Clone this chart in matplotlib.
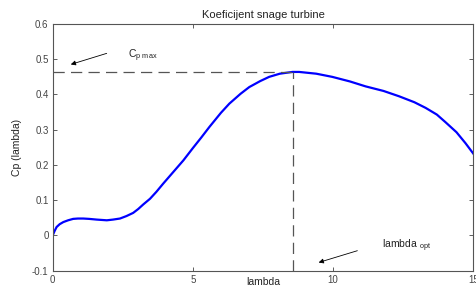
import numpy as np
import matplotlib
matplotlib.use("Agg")
import matplotlib.pyplot as plt

# ocitane vrijednosti krivulje Cp(lambda)
lam = [0.0, 0.07, 0.14, 0.25, 0.38, 0.55, 0.73, 0.9, 1.09, 1.3, 1.57, 1.75,
       1.93, 2.15, 2.4, 2.63, 2.87, 3.05, 3.23, 3.47, 3.7, 3.94, 4.3, 4.66,
       5.0, 5.3, 5.59, 6.0, 6.3, 6.7, 7.01, 7.4, 7.72, 8.1, 8.55, 8.79, 9.4,
       9.97, 10.6, 11.16, 11.8, 12.35, 12.9, 13.3, 13.7, 14.0, 14.4, 14.72,
       15.05]
cp = [0.0, 0.013, 0.024, 0.032, 0.038, 0.043, 0.047, 0.048, 0.048, 0.047,
      0.045, 0.044, 0.043, 0.045, 0.048, 0.055, 0.064, 0.075, 0.088, 0.104,
      0.124, 0.147, 0.18, 0.213, 0.248, 0.278, 0.308, 0.348, 0.374, 0.402,
      0.421, 0.438, 0.450, 0.459, 0.464, 0.464, 0.459, 0.450, 0.437, 0.423,
      0.410, 0.395, 0.378, 0.362, 0.343, 0.322, 0.293, 0.262, 0.227]

cp_max = 0.464
lam_opt = 8.58

plt.rcParams['font.family'] = ['Liberation Sans', 'DejaVu Sans']

fig = plt.figure(figsize=(4.76, 2.96), dpi=100)
ax = fig.add_axes([0.1107, 0.0855, 0.8836, 0.8334])

ax.plot(lam, cp, color='#0000ff', linewidth=1.6)
ax.plot([0, lam_opt], [cp_max, cp_max], color='#555555', linestyle=(0, (9, 5)), linewidth=0.9)
ax.plot([lam_opt, lam_opt], [-0.1, cp_max], color='#555555', linestyle=(0, (9, 5)), linewidth=0.9)

ax.annotate('', xy=(0.55, 0.483), xytext=(2.02, 0.519),
            arrowprops=dict(arrowstyle='-|>', color='black', lw=0.6, mutation_scale=7))
ax.text(2.69, 0.510, r'C$_{\mathregular{p\ max}}$', fontsize=7.5, va='center', ha='left', color='#222222')

ax.annotate('', xy=(9.39, -0.079), xytext=(10.96, -0.041),
            arrowprops=dict(arrowstyle='-|>', color='black', lw=0.6, mutation_scale=7))
ax.text(11.73, -0.030, r'lambda $_{\mathregular{opt}}$', fontsize=7.5, va='center', ha='left', color='#222222')

ax.set_xlim(0, 15)
ax.set_ylim(-0.1, 0.6)
ax.set_xticks([0, 5, 10, 15])
ax.set_yticks([-0.1, 0, 0.1, 0.2, 0.3, 0.4, 0.5, 0.6])
ax.set_yticklabels(['-0.1', '0', '0.1', '0.2', '0.3', '0.4', '0.5', '0.6'])
ax.tick_params(direction='in', length=3, width=0.6, labelsize=7, colors='#444444',
               top=True, right=True, pad=3)
for s in ax.spines.values():
    s.set_color('#555555')
    s.set_linewidth(0.8)

ax.set_title('Koeficijent snage turbine', fontsize=8, pad=4, color='#222222')
ax.set_xlabel('lambda', fontsize=7.5, color='#222222', va='center')
ax.xaxis.set_label_coords(0.5, -0.045)
ax.set_ylabel('Cp (lambda)', fontsize=7.5, labelpad=7, color='#222222')

fig.savefig('out.png', dpi=100)
